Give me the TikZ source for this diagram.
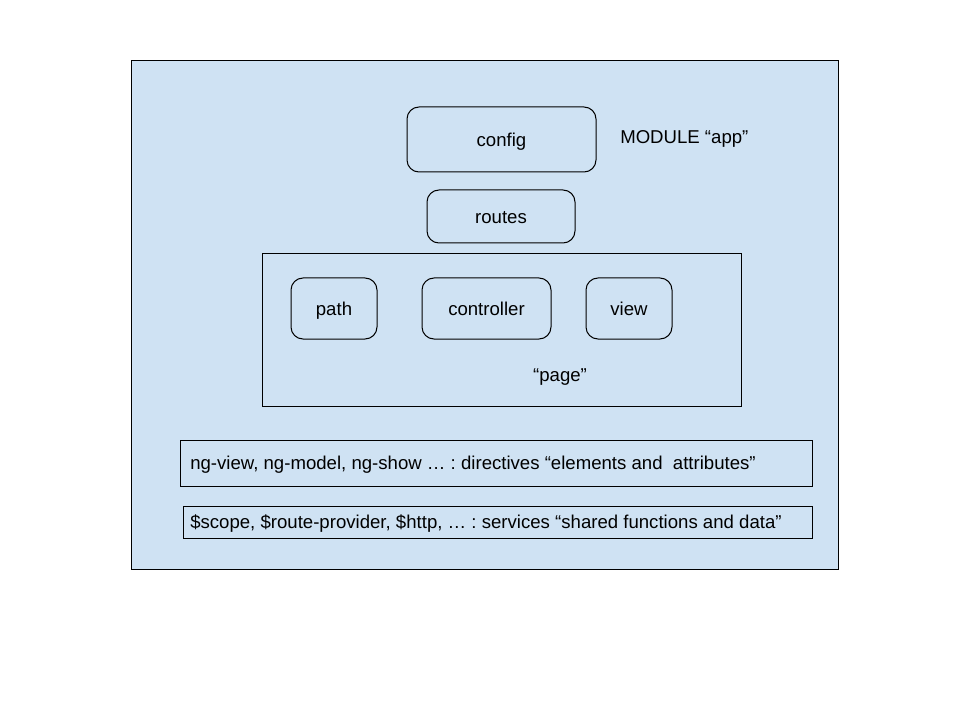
\documentclass[tikz,border=0pt]{standalone}
\usepackage{fontspec}
\setmainfont{Liberation Sans}
\usepackage{xcolor}
\usetikzlibrary{positioning}
\definecolor{modblue}{HTML}{CFE2F3}
\frenchspacing
\tikzset{
  part/.style={draw, rounded corners=9pt, line width=0.75pt, inner sep=0pt, align=center, text height=12pt, text depth=1pt},
  frame/.style={draw, line width=0.75pt, inner sep=0pt},
  caption/.style={inner sep=0pt, text height=10pt, text depth=2pt}
}

\begin{document}
\begin{tikzpicture}[x=0.75pt, y=-0.75pt, font=\fontsize{13.95}{16}\selectfont]
  \useasboundingbox (0,0) rectangle (960,720);

  % module "app"
  \node[frame, fill=modblue, minimum width=707*0.75pt, minimum height=508*0.75pt] (app) at (484.5,315) {};
  \node[caption, anchor=west] (appname) at (620,138) {MODULE “app”};

  % config and routes
  \node[part, minimum width=189*0.75pt, minimum height=65*0.75pt] (config) at (501.5,139.5) {config};
  \node[part, minimum width=148*0.75pt, minimum height=53*0.75pt] (routes) at (501,216.5) {routes};

  % page
  \node[frame, minimum width=479*0.75pt, minimum height=152*0.75pt] (page) at (501.5,330) {};
  \node[part, minimum width=86*0.75pt, minimum height=61*0.75pt] (path) at (334,308.5) {path};
  \node[part, minimum width=129*0.75pt, minimum height=61*0.75pt] (ctrl) at (486.5,308.5) {controller};
  \node[part, minimum width=86*0.75pt, minimum height=61*0.75pt] (view) at (629,308.5) {view};
  \node[caption] (pagename) at (560,376) {“page”};

  % directives and services
  \node[frame, minimum width=632*0.75pt, minimum height=46*0.75pt] (dirs) at (496,463) {};
  \node[caption, anchor=west] (dirtext) at (190,464) {ng-view, ng-model, ng-show … : directives “elements and\ \ attributes”};
  \node[frame, minimum width=629*0.75pt, minimum height=32*0.75pt] (srvs) at (497.5,522) {};
  \node[caption, anchor=west] (srvtext) at (190,523) {\$scope, \$route-provider, \$http, … : services “shared functions and data”};
\end{tikzpicture}
\end{document}
